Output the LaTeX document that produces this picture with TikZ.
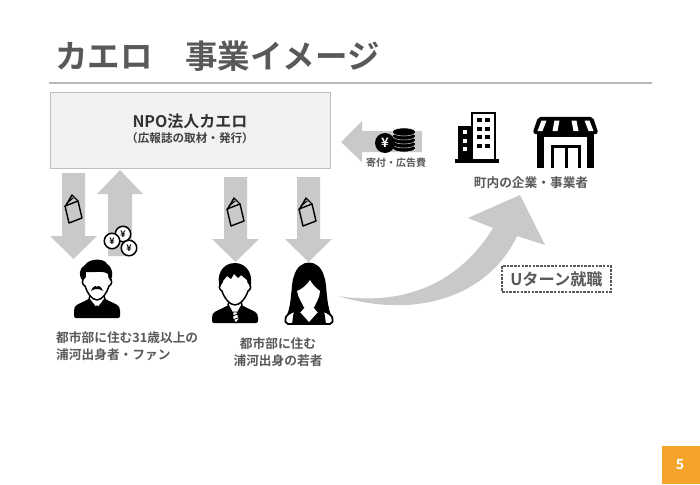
\documentclass[tikz,border=0pt]{standalone}
\usepackage{fontspec}
\setmainfont{Noto Sans CJK JP}[BoldFont={Noto Sans CJK JP Bold}]
\definecolor{textgray}{HTML}{595959}
\definecolor{arrowgray}{HTML}{C9C9C9}
\definecolor{pageorange}{HTML}{F5A32B}
\tikzset{
  blockarrow/.style={fill=arrowgray,draw=none},
  caption/.style={text=textgray,font=\bfseries\fontsize{12.7}{17}\selectfont,inner sep=0pt,align=center},
  facepart/.style={fill=white,draw=black,line width=1.5pt,line join=round},
  booklet/.pic={
    \draw[black,line width=1.4pt,line join=round] (-8,-3) -- (-1,-15) -- (5,-9);
    \draw[black,line width=1.4pt,line join=round] (-8,-4) -- (5,-9) -- (9,8) -- (-4,13) -- cycle;
    \draw[black,line width=1.2pt] (-6,-7) -- (0,-12);
  },
  yencoin/.pic={
    \node[circle,draw=black,fill=white,line width=1.5pt,minimum size=15.5pt,inner sep=0pt,font=\bfseries\fontsize{9}{9}\selectfont] {¥};
  },
  manicon/.pic={
    \fill[black,rounded corners=2pt] (-23,0) -- (-23,-9) .. controls (-21,-14) and (-13,-16) .. (-7,-20) -- (7,-20) .. controls (13,-16) and (21,-14) .. (23,-9) -- (23,0) -- cycle;
    \draw[facepart] (-8,-19) -- (-1,-10) -- (1,-10) -- (8,-19) -- (5,-27) -- (-5,-27) -- cycle;
    \fill[black] (0,-13) -- (-2.5,-9) -- (0,-2) -- (2.5,-9) -- cycle;
    \draw[facepart] (-12,-50) -- (-12,-41) .. controls (-16,-38) and (-15,-33) .. (-12,-32) .. controls (-10,-25) and (-5,-18) .. (0,-18) .. controls (5,-18) and (10,-25) .. (12,-32) .. controls (15,-33) and (16,-38) .. (12,-41) -- (12,-50) -- cycle;
    \fill[black] (-14,-37) .. controls (-19,-42) and (-18,-50) .. (-12,-53) .. controls (-8,-60) and (8,-60) .. (10,-54) .. controls (16,-50) and (17,-42) .. (13,-37) -- (11,-44) .. controls (6,-48) and (-4,-45) .. (-11,-46) -- cycle;
    \fill[black] (-6,-27) .. controls (-4,-32) and (-1,-33) .. (0,-31) .. controls (1,-33) and (4,-32) .. (6,-27) .. controls (3,-29) and (1,-29) .. (0,-29) .. controls (-1,-29) and (-3,-29) .. (-6,-27) -- cycle;
  },
  boyicon/.pic={
    \fill[black,rounded corners=2pt] (-23,0) -- (-23,-7) .. controls (-21,-12) and (-13,-14) .. (-7,-18) -- (7,-18) .. controls (13,-14) and (21,-12) .. (23,-7) -- (23,0) -- cycle;
    \draw[facepart] (-7,-18) -- (-2,-9) -- (2,-9) -- (7,-18) -- (5,-24) -- (-5,-24) -- cycle;
    \draw[fill=white,draw=black,line width=.8pt] (-2,-11) -- (2,-11) -- (4,-4) -- (1,0) -- (-2,-4) -- cycle;
    \draw[black,line width=.8pt] (-3,-7) -- (3,-9) (-3,-3) -- (3,-5);
    \draw[facepart] (-13,-50) -- (-13,-41) .. controls (-17,-38) and (-16,-33) .. (-13,-32) .. controls (-11,-25) and (-5,-18) .. (0,-18) .. controls (5,-18) and (11,-25) .. (13,-32) .. controls (16,-33) and (17,-38) .. (13,-41) -- (13,-50) -- cycle;
    \fill[black] (-15,-36) .. controls (-19,-46) and (-14,-60) .. (0,-60) .. controls (13,-60) and (19,-46) .. (15,-36) -- (12,-43) -- (6,-48) -- (3,-45) -- (-1,-49) -- (-4,-44) -- (-8,-47) -- (-12,-42) -- cycle;
  },
  womanicon/.pic={
    \draw[fill=white,draw=black,line width=1.8pt,rounded corners=2pt] (-23,0) -- (-24,-5) .. controls (-22,-10) and (-14,-14) .. (-7,-18) -- (7,-18) .. controls (14,-14) and (22,-10) .. (24,-5) -- (23,0) -- cycle;
    \fill[black] (-17,0) -- (-15,-14) -- (-4,-17) -- (0,-6) -- (4,-17) -- (15,-14) -- (17,0) -- cycle;
    \fill[black] (-22,-9) .. controls (-17,-20) and (-18,-42) .. (-15,-48) .. controls (-10,-66) and (10,-66) .. (15,-48) .. controls (18,-42) and (17,-20) .. (22,-9) -- (10,-14) -- (-10,-14) -- cycle;
    \fill[white] (-12,-33) .. controls (-7,-35) and (-2,-39) .. (1,-44) .. controls (3,-40) and (7,-36) .. (11,-33) .. controls (11,-26) and (6,-20) .. (5,-16) -- (9,-12) -- (0,-2) -- (-9,-12) -- (-5,-16) .. controls (-6,-20) and (-11,-26) .. (-12,-33) -- cycle;
    \draw[black,line width=1pt] (-9,-12) -- (-5,-17) (9,-12) -- (5,-17);
  }
}
\begin{document}
\begin{tikzpicture}[x=1pt,y=-1pt]
  \useasboundingbox (0,0) rectangle (700,484);
  % title and page number
  \node[anchor=west,inner sep=0pt,text=textgray,font=\bfseries\fontsize{32.5}{33}\selectfont] (title) at (55,56) {カエロ　事業イメージ};
  \draw[color=black!28,line width=1.2pt] (49,83) -- (652,83);
  \fill[pageorange] (662,446) rectangle (700,484);
  \node[text=white,font=\bfseries\fontsize{14}{14}\selectfont,inner sep=0pt] (pagenum) at (680,465) {5};

  % organisation box
  \node[draw=black!25,fill=black!5,line width=.8pt,minimum width=280pt,minimum height=76pt,anchor=north west] (npo) at (50,92) {};
  \node[inner sep=0pt,text=black!80,font=\bfseries\fontsize{16}{16}\selectfont] (nponame) at (190,121) {NPO法人カエロ};
  \node[inner sep=0pt,text=black!75,font=\bfseries\fontsize{11.6}{12}\selectfont] (npotask) at (190,138) {（広報誌の取材・発行）};

  % block arrows going down
  \foreach \x/\t/\h/\b in {73.5/173/236/259, 235.5/177/239/262, 308.5/177/239/262}
    \fill[blockarrow] (\x-11.5,\t) -- (\x+11.5,\t) -- (\x+11.5,\h) -- (\x+23.5,\h) -- (\x,\b) -- (\x-23.5,\h) -- (\x-11.5,\h) -- cycle;
  % block arrow going up
  \fill[blockarrow] (108,256) -- (132,256) -- (132,194) -- (143,194) -- (120,170) -- (97,194) -- (108,194) -- cycle;
  % block arrow going left
  \fill[blockarrow] (422,131) -- (362,131) -- (362,121) -- (341,142) -- (362,162) -- (362,152) -- (422,152) -- cycle;
  % curved arrow
  \fill[blockarrow] (338,296) .. controls (395,305) and (455,290) .. (493,228) -- (468,218) -- (520,195) -- (545,245) -- (517,236) .. controls (492,290) and (425,322) .. (338,296) -- cycle;

  % booklets
  \foreach \x/\y in {73/210, 235/213, 307/213}
    \pic at (\x,\y) {booklet};
  % coins
  \foreach \x/\y in {123/234, 129/248, 112/241}
    \pic at (\x,\y) {yencoin};

  % people
  \pic at (97,318) {manicon};
  \pic at (235,323) {boyicon};
  \pic at (309,324) {womanicon};

  % coin stack
  \foreach \y in {148,144,...,130}
    \draw[fill=black,draw=white,line width=.4pt] (404,\y) ellipse (11.5pt and 4pt);
  \node[circle,fill=black,text=white,minimum size=20pt,inner sep=0pt,font=\bfseries\fontsize{13}{13}\selectfont] (yenmark) at (385,143) {¥};

  % building
  \fill[black] (455,159) rectangle (499,163);
  \fill[black] (458,126) rectangle (472,160);
  \draw[black,line width=2.4pt,fill=white] (472,113) rectangle (495,160);
  \foreach \y in {118,126.5,135,143.5} {
    \fill[black] (477,\y) rectangle +(4.5,4);
    \fill[black] (485,\y) rectangle +(4.5,4);
  }
  \foreach \y in {130,139,147}
    \fill[white] (463,\y) rectangle +(4,4);

  % shop
  \fill[black] (537,130) rectangle (594,168);
  \fill[white] (544,137) rectangle (587,168);
  \fill[black] (551,145) rectangle (581,168);
  \fill[white] (554,148) rectangle (565,168);
  \fill[white] (568,148) rectangle (578,168);
  \draw[black,line width=2.4pt,fill=black,rounded corners=2pt,line join=round] (539,118) -- (592,118) -- (597,133) -- (534,133) -- cycle;
  \foreach \a/\b in {544/540, 557/555, 574/576, 587/591}
    \fill[white] (\a-2.5,120.5) -- (\a+2.5,120.5) -- (\b+2.5,131) -- (\b-2.5,131) -- cycle;

  % labels
  \node[caption,align=left,anchor=north west] (oldcap) at (56,331) {都市部に住む31歳以上の\\浦河出身者・ファン};
  \node[caption] (youngcap) at (278,352) {都市部に住む\\浦河出身の若者};
  \node[caption,font=\bfseries\fontsize{10}{10}\selectfont] (fundcap) at (396,163) {寄付・広告費};
  \node[caption,font=\bfseries\fontsize{12.7}{13}\selectfont] (bizcap) at (531,183) {町内の企業・事業者};
  \node[draw=textgray,dash pattern=on 2.5pt off 1.2pt,line width=1.2pt,text=textgray,minimum width=109pt,minimum height=26pt,inner sep=0pt,font=\bfseries\fontsize{16.2}{16}\selectfont] (uturn) at (556.5,279) {Uターン就職};
\end{tikzpicture}
\end{document}
